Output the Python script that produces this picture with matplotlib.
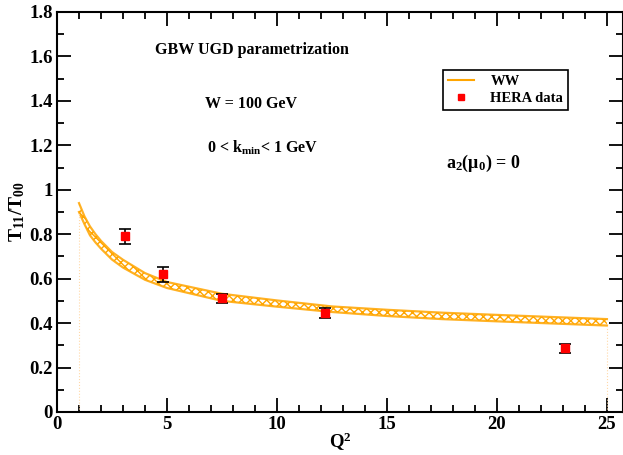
import matplotlib
matplotlib.use("Agg")
import matplotlib.pyplot as plt
from matplotlib.lines import Line2D
from matplotlib.ticker import MultipleLocator

# ---- data ----
q2_band = [1.0, 1.25, 1.5, 1.75, 2.0, 2.5, 3.0, 4.0, 5.0, 7.5, 10.0, 12.5, 15.0, 17.5, 20.0, 25.0]
ww_upper = [0.94, 0.88, 0.835, 0.80, 0.77, 0.72, 0.685, 0.625, 0.585, 0.532, 0.502, 0.475, 0.46, 0.447, 0.437, 0.418]
ww_lower = [0.90, 0.845, 0.795, 0.763, 0.735, 0.686, 0.65, 0.595, 0.558, 0.50, 0.474, 0.45, 0.432, 0.418, 0.408, 0.389]

hera_q2 = [3.1, 4.8, 7.5, 12.2, 23.1]
hera_val = [0.79, 0.62, 0.512, 0.444, 0.286]
hera_err = [0.034, 0.033, 0.021, 0.022, 0.022]

x_ticks = [0, 5, 10, 15, 20, 25]
y_ticks = [0, 0.2, 0.4, 0.6, 0.8, 1.0, 1.2, 1.4, 1.6, 1.8]
y_ticklabels = ["0", "0.2", "0.4", "0.6", "0.8", "1", "1.2", "1.4", "1.6", "1.8"]

plt.rcParams['font.family'] = ['Liberation Serif', 'DejaVu Serif']
plt.rcParams['font.weight'] = 'bold'
plt.rcParams['mathtext.fontset'] = 'custom'
plt.rcParams['mathtext.rm'] = 'Liberation Serif:bold'
plt.rcParams['mathtext.bf'] = 'Liberation Serif:bold'
plt.rcParams['mathtext.it'] = 'Liberation Serif:bold:italic'
plt.rcParams['mathtext.default'] = 'bf'
plt.rcParams['hatch.linewidth'] = 1.0
plt.rcParams['hatch.color'] = 'orange'

fig = plt.figure(figsize=(6.23, 4.55), dpi=100)
ax = fig.add_axes([57/623, 43/455, 1 - 57/623, 400/455])

orange = '#ffa500'
ax.fill_between(q2_band, ww_lower, ww_upper, facecolor='none', edgecolor=orange,
                hatch='xxxx', linewidth=0)
ax.plot(q2_band, ww_upper, color=orange, lw=1.6, alpha=0.85)
ax.plot(q2_band, ww_lower, color=orange, lw=1.6, alpha=0.85)
ax.plot([q2_band[0], q2_band[0]], [0, ww_lower[0]], color='#ffd9a8', lw=0.8, ls=':')
ax.plot([q2_band[-1], q2_band[-1]], [0, ww_lower[-1]], color='#ffd9a8', lw=0.8, ls=':')

ax.errorbar(hera_q2, hera_val, yerr=hera_err, fmt='none', ecolor='black',
            elinewidth=1.2, capsize=4.5, capthick=1.2, zorder=3)
ax.plot(hera_q2, hera_val, 's', color='red', ms=5.5, mec='red', zorder=4)

ax.set_xlim(0, 25.73)
ax.set_ylim(0, 1.8)
ax.set_xticks(x_ticks)
ax.set_xticklabels([str(t) for t in x_ticks])
ax.set_yticks(y_ticks)
ax.set_yticklabels(y_ticklabels)
ax.xaxis.set_minor_locator(MultipleLocator(1))
ax.yaxis.set_minor_locator(MultipleLocator(0.1))
ax.tick_params(which='both', direction='in', top=True, right=True, width=1.3,
               labelsize=13.5, pad=3)
ax.tick_params(which='major', length=10)
ax.tick_params(which='minor', length=5)
for s in ax.spines.values():
    s.set_linewidth(1.5)

ax.set_xlabel(r"Q$^2$", fontsize=13.5, fontweight='bold', labelpad=-2)
ax.set_ylabel(r"T$_{11}$/T$_{00}$", fontsize=14, fontweight='bold', labelpad=2)

ax.text(4.45, 1.63, "GBW UGD parametrization", fontsize=11.5, fontweight='bold', va='center')
ax.text(6.73, 1.387, "W = 100 GeV", fontsize=11.5, fontweight='bold', va='center')
ax.text(6.8, 1.19, r"0 < k$_{\rm min}$< 1 GeV", fontsize=11.5, fontweight='bold', va='center')
ax.text(17.7, 1.12, r"a$_2$(μ$_0$) = 0", fontsize=13, fontweight='bold', va='center')

handles = [Line2D([0], [0], color=orange, lw=1.5),
           Line2D([0], [0], marker='s', color='red', ls='none', ms=5)]
leg = ax.legend(handles, ["WW", "HERA data"], loc='upper left',
                bbox_to_anchor=((443-57)/566, (412-70)/400), fontsize=10.5,
                frameon=True, fancybox=False, edgecolor='black', framealpha=1,
                borderpad=0.35, labelspacing=0.25, handlelength=1.8, handletextpad=1.1,
                borderaxespad=0)
leg.get_frame().set_linewidth(1.2)
for t in leg.get_texts():
    t.set_fontweight('bold')

fig.savefig("out.png", dpi=100)
